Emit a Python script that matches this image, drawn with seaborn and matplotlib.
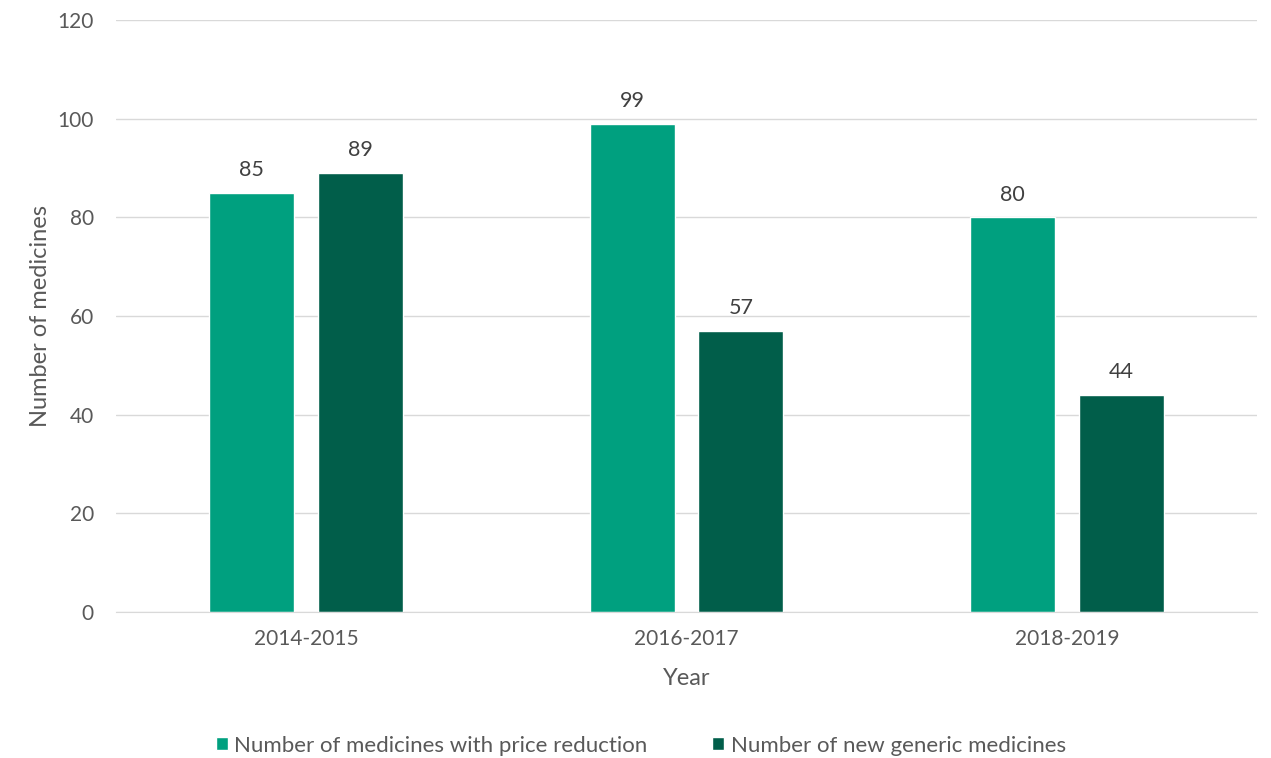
import pandas as pd
import numpy as np
import matplotlib.pyplot as plt
import seaborn as sns

# data
years = ['2014-2015', '2016-2017', '2018-2019']
price_reduction = [85, 99, 80]
new_generic = [89, 57, 44]
series_names = ['Number of medicines with price reduction', 'Number of new generic medicines']
colors = ['#00A07F', '#015E4A']

df = pd.DataFrame({
    'Year': years * 2,
    'value': price_reduction + new_generic,
    'series': [series_names[0]] * 3 + [series_names[1]] * 3,
})

sns.set_style('white')
plt.rcParams['font.family'] = ['Lato', 'DejaVu Sans']
grey = '#595959'

fig = plt.figure(figsize=(12.71, 7.58), dpi=100)
ax = fig.add_axes([0.0913, 0.1926, 0.8977, 0.781])

sns.barplot(data=df, x='Year', y='value', hue='series', palette=colors,
            width=0.571, gap=0.217, ax=ax, saturation=1, legend=True)

for c in ax.containers:
    ax.bar_label(c, padding=9, fontsize=15.5, color='#404040')

ax.set_ylim(0, 120)
ax.set_yticks(np.arange(0, 121, 20))
ax.grid(axis='y', color='#D9D9D9', linewidth=1)
ax.set_axisbelow(True)
for s in ['top', 'right', 'left']:
    ax.spines[s].set_visible(False)
ax.spines['bottom'].set_color('#D9D9D9')
ax.tick_params(axis='both', length=0, labelsize=15, colors=grey)
ax.tick_params(axis='y', pad=16)
ax.tick_params(axis='x', pad=12)

ax.set_xlabel('Year', fontsize=17, color=grey, labelpad=14)
ax.set_ylabel('Number of medicines', fontsize=17, color=grey, labelpad=5)

ax.legend(loc='upper center', bbox_to_anchor=(0.46, -0.175), ncol=2, frameon=False,
          fontsize=16, labelcolor=grey, handlelength=0.55, handleheight=0.55,
          handletextpad=0.3, columnspacing=2.9)

fig.savefig('out.png', dpi=100)
